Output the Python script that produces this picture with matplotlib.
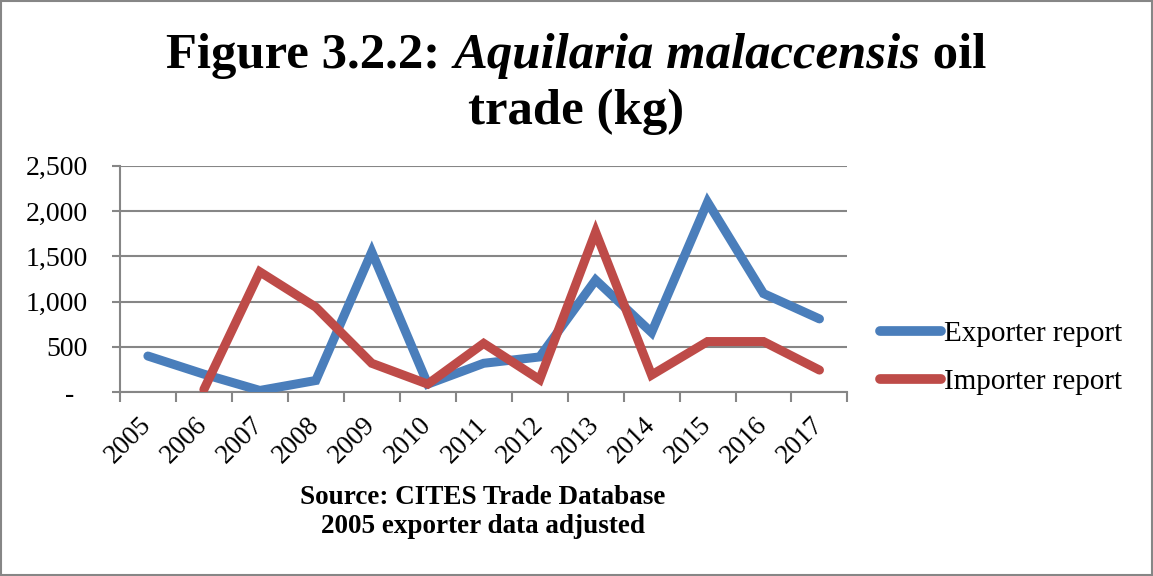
import matplotlib.pyplot as plt
from matplotlib.patches import Rectangle
from matplotlib.ticker import FuncFormatter, FixedLocator

# data (kg)
years = ['2005', '2006', '2007', '2008', '2009', '2010', '2011',
         '2012', '2013', '2014', '2015', '2016', '2017']
exporter = [400, 200, 20, 130, 1550, 90, 320, 390, 1240, 660, 2100, 1090, 810]
importer = [None, 30, 1330, 940, 320, 90, 540, 140, 1770, 190, 560, 560, 245]
y_ticks = [0, 500, 1000, 1500, 2000, 2500]

plt.rcParams['font.family'] = ['Liberation Serif', 'DejaVu Serif']

fig = plt.figure(figsize=(11.53, 5.76), dpi=100)
ax = fig.add_axes([0.104, 0.319, 0.631, 0.393])

x = list(range(len(years)))
imp_x = [i for i, v in zip(x, importer) if v is not None]
imp_y = [v for v in importer if v is not None]

ax.plot(x, exporter, color='#4A7EBB', lw=6.5, solid_capstyle='round',
        solid_joinstyle='miter', label='Exporter report', zorder=3)
ax.plot(imp_x, imp_y, color='#BE4B48', lw=6.5, solid_capstyle='round',
        solid_joinstyle='miter', label='Importer report', zorder=3)

ax.set_xlim(-0.5, len(years) - 0.5)
ax.set_ylim(0, 2500)
ax.set_yticks(y_ticks)
# accounting style: zero shown as a dash with trailing padding
ax.yaxis.set_major_formatter(FuncFormatter(lambda v, p: '-  ' if v == 0 else f'{int(v):,}'))
ax.tick_params(axis='y', labelsize=20, length=6, color='#868686', width=1.5, pad=17)

ax.set_xticks(x)
ax.set_xticklabels(years, rotation=45, ha='right', va='center',
                   rotation_mode='anchor', fontsize=19.5)
ax.xaxis.set_minor_locator(FixedLocator([i - 0.5 for i in range(len(years) + 1)]))
ax.tick_params(axis='x', which='major', length=0, pad=21)
ax.tick_params(axis='x', which='minor', length=7, color='#868686', width=1.5)

ax.grid(axis='y', color='#868686', lw=1.5)
ax.set_axisbelow(True)
for s in ['top', 'right']:
    ax.spines[s].set_visible(False)
ax.spines['left'].set_color('#868686')
ax.spines['bottom'].set_color('#868686')
ax.spines['left'].set_linewidth(1.5)
ax.spines['bottom'].set_linewidth(1.5)

leg = ax.legend(loc='center left', bbox_to_anchor=(880 / 1153, 1 - 358 / 576),
                bbox_transform=fig.transFigure, frameon=False, fontsize=21,
                handlelength=2.1, handletextpad=0.1, labelspacing=0.75,
                borderpad=0, borderaxespad=0)
for h in leg.get_lines():
    h.set_linewidth(7)

# title: first line has italic species name
renderer = fig.canvas.get_renderer()
parts = [('Figure 3.2.2: ', 'normal'), ('Aquilaria malaccensis', 'italic'), (' oil', 'normal')]
texts = []
for s, style in parts:
    t = fig.text(0, 1 - 68 / 576, s, fontsize=36.5, fontweight='bold', style=style,
                 va='baseline', ha='left')
    texts.append(t)
widths = [t.get_window_extent(renderer).width for t in texts]
x0 = (fig.bbox.width - sum(widths)) / 2
for t, w in zip(texts, widths):
    t.set_x(x0 / fig.bbox.width)
    x0 += w
fig.text(0.5, 1 - 124 / 576, 'trade (kg)', fontsize=36.5, fontweight='bold',
         ha='center', va='baseline')

fig.text(0.419, 1 - 512 / 576, 'Source: CITES Trade Database\n2005 exporter data adjusted',
         fontsize=19.5, fontweight='bold', ha='center', va='center', linespacing=1.2)

fig.patches.append(Rectangle((0.001, 0.002), 0.998, 0.996, transform=fig.transFigure,
                             fill=False, edgecolor='#868686', lw=1.5))

fig.savefig('out.png', dpi=100)
